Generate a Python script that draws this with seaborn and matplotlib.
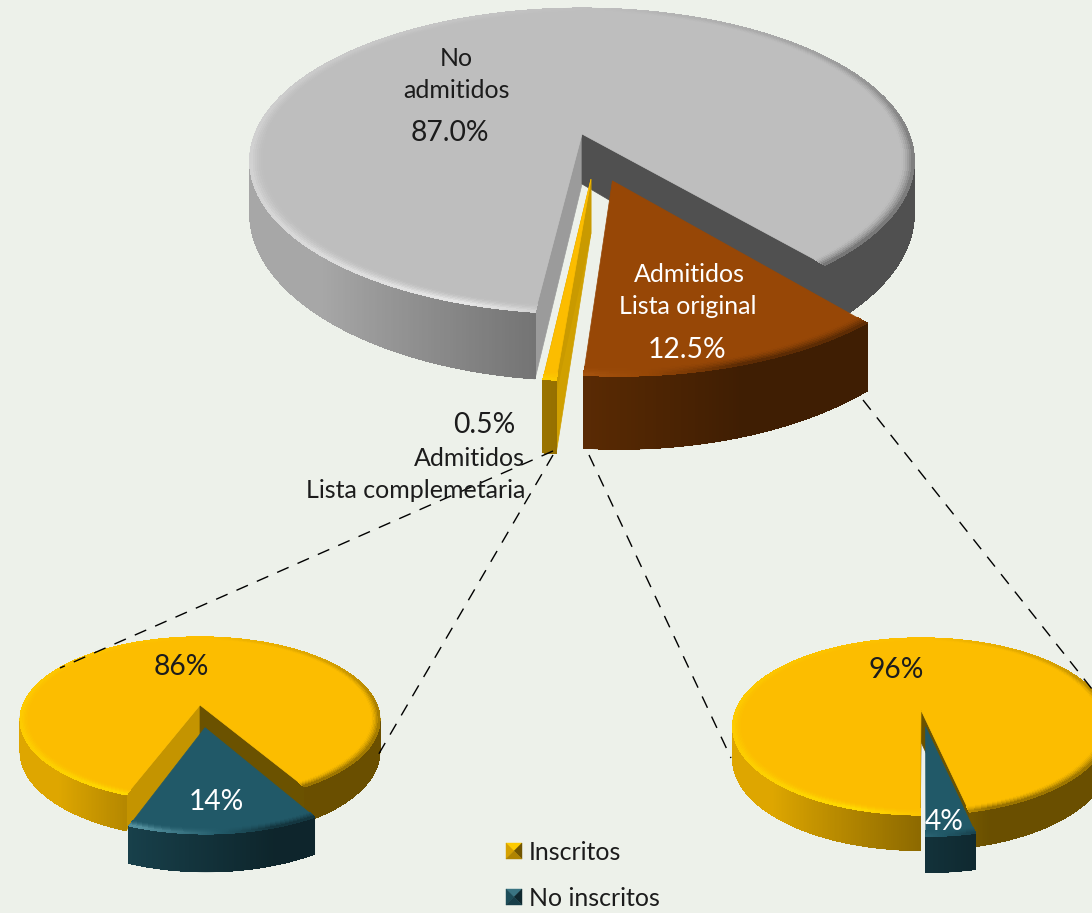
import numpy as np
import matplotlib
matplotlib.use("Agg")
import matplotlib.pyplot as plt
from matplotlib.collections import PolyCollection
from matplotlib.colors import to_rgb
import seaborn as sns

# ---- data ----
main_labels = ["No admitidos", "Admitidos Lista original", "Admitidos Lista complemetaria"]
main_values = [87.0, 12.5, 0.5]
left_values = [86, 14]
right_values = [96.5, 3.5]
legend_labels = ["Inscritos", "No inscritos"]

BG = "#edf1ea"
GREY, ORANGE, GOLD, TEAL = sns.color_palette(["#bebebe", "#974706", "#fcbd00", "#215968"])
HILITE = {GREY: (1, 1, 1), ORANGE: (.8, .45, .15), GOLD: (1, .92, 0), TEAL: (.45, .7, .75)}

sns.set_theme(style="white", rc={"figure.facecolor": BG, "axes.facecolor": BG})
plt.rcParams["font.family"] = ["Lato", "DejaVu Sans"]

fig = plt.figure(figsize=(10.92, 9.13), dpi=100)
ax = fig.add_axes([0, 0, 1, 1])
ax.set_xlim(0, 1092)
ax.set_ylim(913, 0)
ax.axis("off")
sns.despine(ax=ax, left=True, bottom=True)


class Pie:
    def __init__(self, cx, cy, rx, ry, k, depth, p=1.5):
        self.cx, self.cy, self.rx, self.ry, self.k, self.depth, self.p = cx, cy, rx, ry, k, depth, p

    def proj(self, u, v, down=False):
        u, v = np.asarray(u, float), np.asarray(v, float)
        s = 1.0 / (1.0 - self.k * v)
        x = self.cx + self.rx * u * s
        y = self.cy + self.ry * v * s
        if down:
            y = y + self.depth * s ** self.p
        return np.column_stack([np.atleast_1d(x), np.atleast_1d(y)])


def shade(color, m):
    return tuple(np.clip(np.array(to_rgb(color)) * m, 0, 1))


def mix(color, target, t):
    c = np.array(to_rgb(color))
    return tuple(np.clip(c + (np.array(target) - c) * t, 0, 1))


def side_mult(s):
    return float(np.interp(s, [-1, -.7, -.1, .3, 1], [.88, .88, .6, .42, .42]))


def draw_slice(pie, a1, a2, base, off=(0, 0), left_face=None, right_face=None, z=1, bevel=.045, radius=1.0):
    """a1 -> a2 in degrees from the front direction, positive to the right."""
    du, dv = off
    th = np.radians(np.linspace(a1, a2, max(int(abs(a2 - a1)) * 2, 8)))
    u, v = radius * np.sin(th) + du, radius * np.cos(th) + dv
    top, bot = pie.proj(u, v), pie.proj(u, v, True)
    a_top, a_bot = pie.proj(du, dv), pie.proj(du, dv, True)

    # cut faces
    for end, col in ((0, right_face), (-1, left_face)):
        if col is not None:
            ax.fill([a_top[0, 0], top[end, 0], bot[end, 0], a_bot[0, 0]],
                    [a_top[0, 1], top[end, 1], bot[end, 1], a_bot[0, 1]],
                    color=col, lw=.5, zorder=z)
    # outer wall: soft-edged underlay for each visible run, then the shaded strips
    idx = np.flatnonzero(np.cos(th) > -0.2)
    if idx.size:
        for run in np.split(idx, np.flatnonzero(np.diff(idx) > 1) + 1):
            ax.fill(np.r_[top[run, 0], bot[run, 0][::-1]], np.r_[top[run, 1], bot[run, 1][::-1]],
                    color=shade(base, .6), lw=.6, zorder=z)
    quads, cols = [], []
    for i in range(len(th) - 1):
        quads.append([top[i], top[i + 1], bot[i + 1], bot[i]])
        cols.append(shade(base, side_mult(np.sin((th[i] + th[i + 1]) / 2))))
    ax.add_collection(PolyCollection(quads, facecolors=cols, edgecolors=cols, linewidths=.3,
                                     antialiaseds=False, zorder=z))

    # flat top
    ax.fill(np.r_[a_top[0, 0], top[:, 0]], np.r_[a_top[0, 1], top[:, 1]], color=base, lw=.5, zorder=z)

    # rounded rim of the top
    quads, cols = [], []
    n = 6
    rings = radius * np.linspace(1 - bevel, 1, n + 1)
    for j in range(n):
        p = ((j + .5) / n) ** 1.5
        r0, r1 = rings[j], rings[j + 1]
        P0 = pie.proj(r0 * np.sin(th) + du, r0 * np.cos(th) + dv)
        P1 = pie.proj(r1 * np.sin(th) + du, r1 * np.cos(th) + dv)
        for i in range(len(th) - 1):
            tm = (th[i] + th[i + 1]) / 2
            h = np.interp(np.sin(tm), [-1, -.3, .3, 1], [.4, .7, -.45, -.45])
            h *= np.interp(np.cos(tm), [-1, 0, 1], [.1, .8, 1])
            amt = h * p
            col = mix(base, HILITE[base], amt) if amt > 0 else shade(base, 1 + amt)
            quads.append([P0[i], P0[i + 1], P1[i + 1], P1[i]])
            cols.append(col)
    ax.add_collection(PolyCollection(quads, facecolors=cols, edgecolors=cols, linewidths=.3,
                                     antialiaseds=False, zorder=z))


def angles(values, start):
    return start - np.cumsum(np.r_[0, values]) * 3.6


# ---- main pie ----
main = Pie(582, 134, 327, 148, .176, 50)
e = angles([main_values[1], main_values[2], main_values[0]], 40)
draw_slice(main, e[2], e[3], GREY, left_face="#505050", right_face="#9b9b9b", z=1, bevel=.035)
draw_slice(main, e[1], e[2], GOLD, off=(.026, .29), left_face="#c99a00", right_face="#d0a000", z=2, bevel=.03)
draw_slice(main, e[0], e[1], ORANGE, off=(.088, .30), z=3, bevel=.035, radius=.97)

# ---- left secondary pie ----
lp = Pie(200, 705, 177, 80, .176, 31, p=.8)
e = angles([left_values[1], left_values[0]], 30)
draw_slice(lp, e[1], e[2], GOLD, left_face="#6b5200", right_face="#c49400", z=1)
draw_slice(lp, e[0], e[1], TEAL, off=(.027, .27), radius=.985)

# ---- right secondary pie ----
rp = Pie(921, 710, 185, 85.4, .186, 32, p=.5)
e = angles([right_values[1], right_values[0]], 12.4)
draw_slice(rp, e[1], e[2], GOLD, left_face="#6b5200", right_face="#6b5200", z=1)
draw_slice(rp, e[0], e[1], TEAL, off=(.024, .19), z=2, radius=.97)

# ---- connector lines ----
dash = dict(color="black", lw=1, dashes=(9, 7), zorder=5)
ax.plot([553, 60], [451, 668], **dash)
ax.plot([553, 377], [455, 757], **dash)
ax.plot([589, 731], [455, 758], **dash)
ax.plot([863, 1092], [400, 689], **dash)

# ---- labels ----
DARK, WHITE = "#1c1c1c", "white"
FS, FB = 18, 20.3
def label(x, y, s, c=DARK, fs=FS, ha="center"):
    ax.text(x, y + 2, s, color=c, fontsize=fs, ha=ha, va="center", zorder=10)

label(456, 56, "No")
label(456, 88, "admitidos")
label(450, 131, "87.0%", fs=FB)
label(689, 273, "Admitidos", WHITE)
label(688, 305, "Lista original", WHITE)
label(687, 348, "12.5%", WHITE, FB)
label(484, 423, "0.5%", fs=FB)
label(525, 456, "Admitidos", ha="right")
label(525, 489, "Lista complemetaria", ha="right")
label(181, 665, "86%", fs=FB)
label(216, 800, "14%", WHITE, FB)
label(896, 668, "96%", fs=FB)
label(944, 820, "4%", WHITE, FB)

# ---- legend ----
def swatch(x0, y0, base, size=16):
    x1, y1 = x0 + size, y0 + size
    cx_, cy_ = x0 + size / 2, y0 + size / 2
    tris = [([x0, x1, cx_], [y0, y0, cy_], mix(base, HILITE[base], .3)),
            ([x0, x0, cx_], [y0, y1, cy_], shade(base, .85)),
            ([x1, x1, cx_], [y0, y1, cy_], shade(base, .45)),
            ([x0, x1, cx_], [y1, y1, cy_], shade(base, .7))]
    for xs, ys, c in tris:
        ax.fill(xs, ys, color=c, lw=.3, zorder=10)

swatch(506, 843, GOLD)
swatch(506, 889, TEAL)
label(529, 851, legend_labels[0], ha="left")
label(529, 897, legend_labels[1], ha="left")

fig.savefig("out.png", dpi=100, facecolor=BG)
